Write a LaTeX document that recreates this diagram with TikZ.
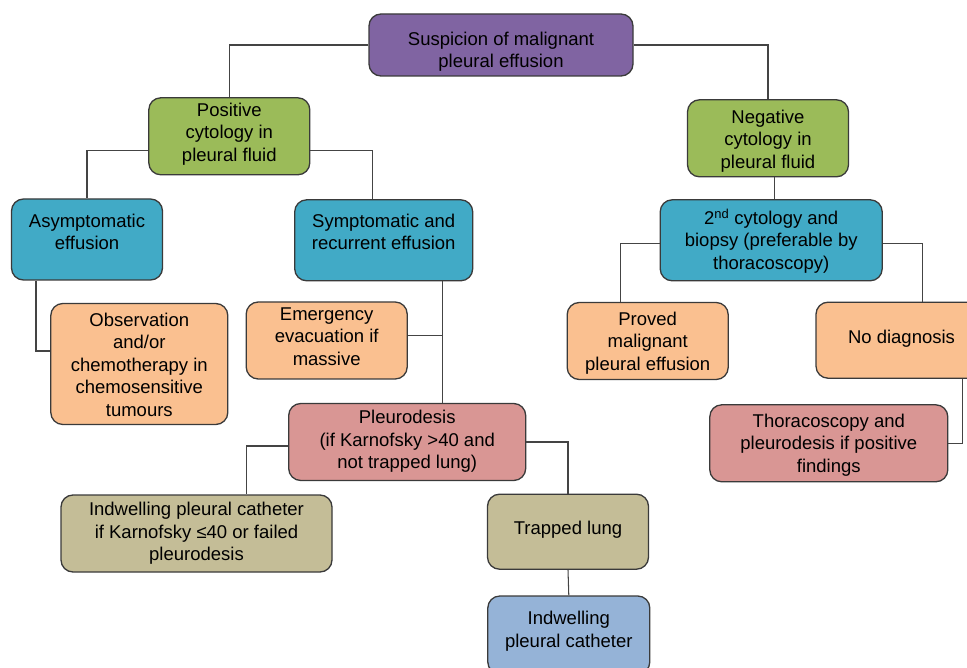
\documentclass[tikz,border=0pt]{standalone}
\usepackage{fontspec}
\setmainfont{Liberation Sans}
\usetikzlibrary{calc}
\definecolor{cpurple}{HTML}{8064A2}
\definecolor{cgreen}{HTML}{9BBB59}
\definecolor{cteal}{HTML}{41AAC6}
\definecolor{cpeach}{HTML}{FAC090}
\definecolor{cpink}{HTML}{D99694}
\definecolor{ctan}{HTML}{C4BD97}
\definecolor{cblue}{HTML}{95B3D7}
\definecolor{cline}{HTML}{3A3A3A}
\newcommand\boxtext[2]{\raisebox{-#1}[\height][\depth]{\begin{tabular}{@{}c@{}}#2\end{tabular}}}
\begin{document}
\begin{tikzpicture}[x=1pt,y=-1pt,
  box/.style={draw=cline, line width=1.3pt, rounded corners=12pt,
    inner sep=2pt, font=\fontsize{18.5}{22.5}\selectfont, text=black},
  conn/.style={draw=cline!95, line width=1.05pt}]
\useasboundingbox (0,0) rectangle (967,668);

\node[box, fill=cpurple, minimum width=264pt, minimum height=62pt] (susp) at (501,45) {\boxtext{7pt}{Suspicion of malignant\\pleural effusion}};
\node[box, fill=cgreen, minimum width=161pt, minimum height=77pt] (pos) at (229.3,136.3) {\boxtext{-2pt}{Positive\\cytology in\\pleural fluid}};
\node[box, fill=cgreen, minimum width=161pt, minimum height=77pt] (neg) at (768,138.3) {\boxtext{3pt}{Negative\\cytology in\\pleural fluid}};
\node[box, fill=cteal, minimum width=151pt, minimum height=81pt] (asym) at (87,239.5) {\boxtext{-5.5pt}{Asymptomatic\\effusion}};
\node[box, fill=cteal, minimum width=178pt, minimum height=81pt] (symp) at (383.7,240.3) {\boxtext{-6.5pt}{Symptomatic and\\recurrent effusion}};
\node[box, fill=cteal, minimum width=222pt, minimum height=81pt] (sec) at (771.2,240.3) {\boxtext{2pt}{2\textsuperscript{nd} cytology and\\biopsy (preferable by\\thoracoscopy)}};
\node[box, fill=cpeach, minimum width=177pt, minimum height=121pt] (obs) at (139.3,364) {\boxtext{3pt}{Observation\\and/or\\chemotherapy in\\chemosensitive\\tumours}};
\node[box, fill=cpeach, minimum width=161pt, minimum height=77pt] (emerg) at (326.7,340.5) {\boxtext{-2pt}{Emergency\\evacuation if\\massive}};
\node[box, fill=cpeach, minimum width=161pt, minimum height=77pt] (proved) at (647.7,341) {\boxtext{2.5pt}{Proved\\malignant\\pleural effusion}};
\node[box, fill=cpeach, minimum width=171pt, minimum height=76pt] (nodiag) at (901.5,340.2) {\boxtext{-1pt}{No diagnosis}};
\node[box, fill=cpink, minimum width=237pt, minimum height=77pt] (pleu) at (407.2,442) {\boxtext{0pt}{Pleurodesis\\(if Karnofsky >40 and\\not trapped lung)}};
\node[box, fill=cpink, minimum width=238pt, minimum height=77pt] (thor) at (828.8,443.3) {\boxtext{2pt}{Thoracoscopy and\\pleurodesis if positive\\findings}};
\node[box, fill=ctan, minimum width=271pt, minimum height=77pt] (ipc1) at (196.5,533.5) {\boxtext{0pt}{Indwelling pleural catheter\\if Karnofsky ≤40 or failed\\pleurodesis}};
\node[box, fill=ctan, minimum width=161pt, minimum height=75pt] (trap) at (568,531.7) {\boxtext{-2pt}{Trapped lung}};
\node[box, fill=cblue, minimum width=162pt, minimum height=78pt] (ipc2) at (568.8,635) {\boxtext{-3.5pt}{Indwelling\\pleural catheter}};

\draw[conn] (susp.west) -| (pos.north);
\draw[conn] (susp.east) -| (neg.north);
\draw[conn] ($(pos.west)+(0,14)$) -| (asym.north);
\draw[conn] ($(pos.east)+(0,14)$) -| ($(symp.north)+(-11,0)$);
\coordinate (nsj) at ($(sec.north)+(3,0)$);
\draw[conn] (nsj) -- (nsj |- neg.south);
\draw[conn] ($(sec.west)+(0,3)$) -| ($(proved.north)+(-27,0)$);
\draw[conn] ($(sec.east)+(0,3)$) -| ($(nodiag.north)+(21,0)$);
\draw[conn] ($(asym.south)+(-51,0)$) |- ($(obs.west)+(0,-13)$);
\coordinate (sj) at ($(symp.south)+(58.6,0)$);
\draw[conn] (sj) -- (sj |- pleu.north);
\coordinate (ej) at ($(emerg.east)+(0,-5)$);
\draw[conn] (ej) -- (ej -| sj);
\draw[conn] ($(pleu.west)+(0,4)$) -| ($(ipc1.north)+(50,0)$);
\draw[conn] (pleu.east) -| (trap.north);
\draw[conn] (trap.south) -- (ipc2.north);
\draw[conn] ($(nodiag.south)+(61,0)$) |- (thor.east);
\end{tikzpicture}
\end{document}
